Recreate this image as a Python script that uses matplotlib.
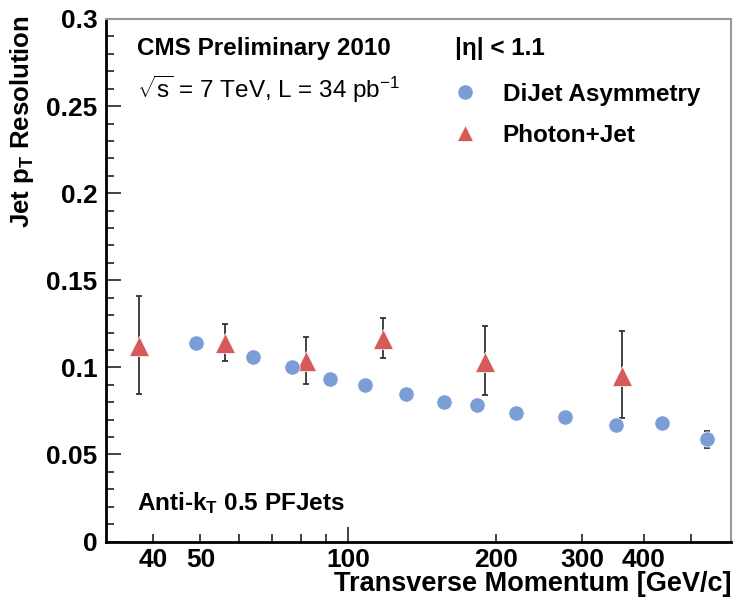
import numpy as np
import matplotlib
matplotlib.use("Agg")
import matplotlib.pyplot as plt
from matplotlib.ticker import FixedLocator, MultipleLocator, FuncFormatter
from matplotlib.lines import Line2D

# values
dijet_pt = [49, 64, 77, 92, 108, 131, 157, 183, 220, 277, 352, 436, 538]
dijet_res = [0.1140, 0.1057, 0.1000, 0.0931, 0.0897, 0.0845, 0.0801, 0.0784,
             0.0740, 0.0717, 0.0671, 0.0679, 0.0587]
dijet_err = [0, 0, 0, 0, 0, 0, 0, 0, 0, 0, 0, 0, 0.0050]

gamma_pt = [37.5, 56, 82, 118, 190, 362]
gamma_res = [0.1124, 0.1138, 0.1036, 0.1161, 0.1032, 0.0952]
gamma_err_up = [0.0287, 0.0112, 0.0136, 0.0120, 0.0207, 0.0256]
gamma_err_dn = [0.0276, 0.0102, 0.0130, 0.0106, 0.0191, 0.0243]

x_labelled = [40, 50, 100, 200, 300, 400]

plt.rcParams['font.family'] = ['Liberation Sans', 'DejaVu Sans']
plt.rcParams['mathtext.fontset'] = 'custom'
plt.rcParams['mathtext.rm'] = 'Liberation Sans'
plt.rcParams['mathtext.bf'] = 'Liberation Sans:bold'
plt.rcParams['mathtext.it'] = 'Liberation Sans:italic'

blue = '#7b9dd6'
red = '#d65a5a'

W, H = 734, 598
fig = plt.figure(figsize=(W / 100, H / 100), dpi=100)
ax = fig.add_axes([106 / W, (H - 541.5) / H, (731 - 106) / W, (541.5 - 19) / H])

# photon+jet with asymmetric errors
ax.errorbar(gamma_pt, gamma_res, yerr=[gamma_err_dn, gamma_err_up], fmt='none',
            ecolor='#333333', elinewidth=1.3, capsize=2.5, capthick=1.3, zorder=2)
ax.plot(gamma_pt, gamma_res, '^', color=red, ms=14, mec='white', mew=0.5, zorder=3)

# dijet asymmetry
ax.errorbar(dijet_pt, dijet_res, yerr=dijet_err, fmt='none',
            ecolor='#333333', elinewidth=1.3, capsize=2.5, capthick=1.3, zorder=2)
ax.plot(dijet_pt, dijet_res, 'o', color=blue, ms=11, mec='white', mew=0.5, zorder=3)

ax.set_xscale('log')
ax.set_xlim(32.1, 603)
ax.set_ylim(0, 0.3)

ax.xaxis.set_major_locator(FixedLocator([100]))
ax.xaxis.set_minor_locator(FixedLocator([40, 50, 60, 70, 80, 90, 200, 300, 400, 500]))
fmt = FuncFormatter(lambda v, p: '%d' % round(v) if round(v) in x_labelled else '')
ax.xaxis.set_major_formatter(fmt)
ax.xaxis.set_minor_formatter(fmt)
ax.yaxis.set_major_locator(MultipleLocator(0.05))
ax.yaxis.set_minor_locator(MultipleLocator(0.01))
ax.yaxis.set_major_formatter(FuncFormatter(lambda v, p: '%g' % round(v, 3)))

ax.tick_params(which='both', direction='in', top=False, right=False,
               labelsize=19, width=1.2, color='#222222')
ax.tick_params(which='major', length=11)
ax.tick_params(which='minor', length=6)
ax.tick_params(axis='y', pad=6)
ax.tick_params(axis='x', which='both', pad=5)
for lab in ax.get_xticklabels(which='both') + ax.get_yticklabels():
    lab.set_fontweight('bold')

for s in ['left', 'bottom']:
    ax.spines[s].set_linewidth(2)
    ax.spines[s].set_color('black')
for s in ['top', 'right']:
    ax.spines[s].set_linewidth(1.5)
    ax.spines[s].set_color('#999999')

fig.text(731 / W, 1 - 584 / H, 'Transverse Momentum [GeV/c]', ha='right', va='center',
         fontsize=19.5, fontweight='bold')
fig.text(22 / W, 1 - 15 / H, r'Jet p$_\mathbf{T}$ Resolution', rotation=90,
         ha='center', va='top', fontsize=18.5, fontweight='bold')

fig.text(137 / W, 1 - 49 / H, 'CMS Preliminary 2010', ha='left', va='center',
         fontsize=17.5, fontweight='bold')
fig.text(137 / W, 1 - 89 / H, r'$\sqrt{\mathrm{s}}$ = 7 TeV, L = 34 pb$^{\mathrm{-1}}$',
         ha='left', va='center', fontsize=17.5)
fig.text(455 / W, 1 - 49 / H, '|η| < 1.1', ha='left', va='center',
         fontsize=17.5, fontweight='bold')
fig.text(137 / W, 1 - 503 / H, r'Anti-k$_\mathbf{T}$ 0.5 PFJets', ha='left', va='center',
         fontsize=17.5, fontweight='bold')

handles = [Line2D([], [], ls='none', marker='o', color=blue, ms=11, mec='white', mew=0.5),
           Line2D([], [], ls='none', marker='^', color=red, ms=11, mec='white', mew=0.5)]
leg = ax.legend(handles, ['DiJet Asymmetry', 'Photon+Jet'], loc='upper left',
                bbox_to_anchor=(453 / W, 1 - 83 / H), bbox_transform=fig.transFigure,
                frameon=False, handlelength=1.0, handletextpad=1.05, labelspacing=0.72,
                borderaxespad=0, borderpad=0, prop={'size': 17.5, 'weight': 'bold'})

fig.savefig('out.png', dpi=100)
